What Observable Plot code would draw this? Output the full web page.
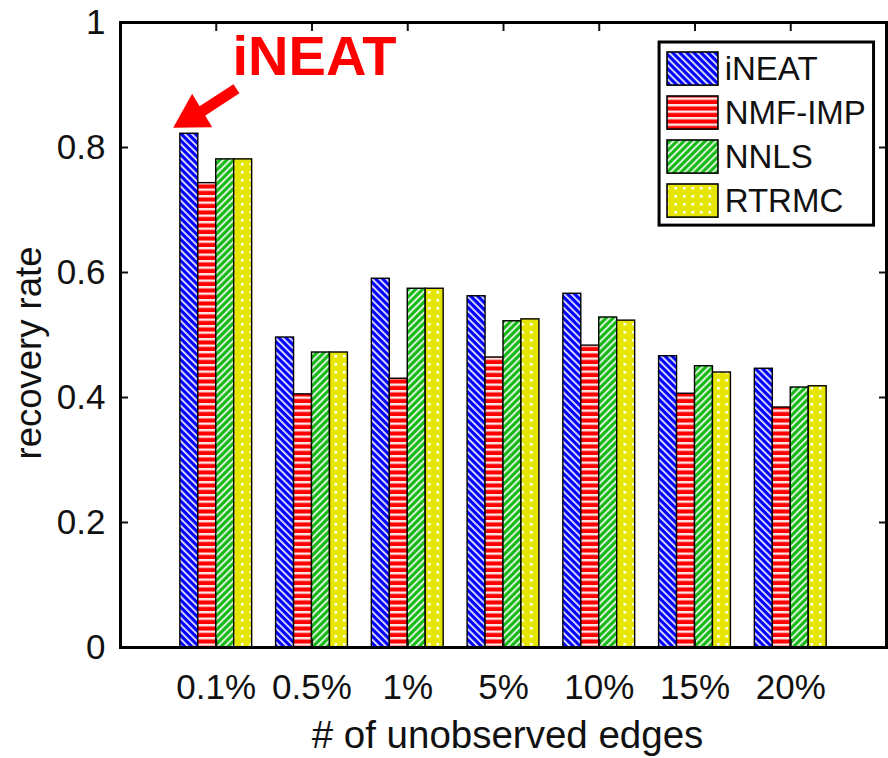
<!DOCTYPE html>
<html>
<head>
<meta charset="utf-8">
<script src="https://cdn.jsdelivr.net/npm/d3@7"></script>
<script src="https://cdn.jsdelivr.net/npm/@observablehq/plot@0.6"></script>
<style>
  html, body { margin: 0; padding: 0; background: #ffffff; }
  #chart { width: 888px; height: 758px; }
</style>
</head>
<body>
<div id="chart"></div>
<script>
// ---- data ----
const categories = ["0.1%", "0.5%", "1%", "5%", "10%", "15%", "20%"];
const series = ["iNEAT", "NMF-IMP", "NNLS", "RTRMC"];
const ineat  = [0.822, 0.496, 0.590, 0.562, 0.566, 0.466, 0.446];
const nmfImp = [0.743, 0.405, 0.430, 0.464, 0.483, 0.406, 0.384];
const nnls   = [0.781, 0.472, 0.574, 0.522, 0.528, 0.450, 0.416];
const rtrmc  = [0.781, 0.472, 0.574, 0.525, 0.523, 0.440, 0.418];
const yTicks = [0, 0.2, 0.4, 0.6, 0.8, 1];
const yTickLabels = ["0", "0.2", "0.4", "0.6", "0.8", "1"];
const xLabel = "# of unobserved edges";
const yLabel = "recovery rate";
const annotationText = "iNEAT";

// ---- build table ----
const seriesValues = [ineat, nmfImp, nnls, rtrmc];
const barW = 0.1875;
const rows = [];
categories.forEach((c, ci) => {
  series.forEach((s, si) => {
    const x1 = ci + 1 - 2 * barW + si * barW;
    rows.push({category: c, series: s, value: seriesValues[si][ci], x1, x2: x1 + barW});
  });
});
const catPos = categories.map((c, i) => i + 1);
const patternIds = ["pat-ineat", "pat-nmf", "pat-nnls", "pat-rtrmc"];
const patternFills = patternIds.map(id => `url(#${id})`);

// ---- legend layout (data units) ----
const legX1 = 5.713, legX2 = 6.245, legTextX = 6.31;
const legTop = 0.952, legStep = 0.0704, legH = 0.053;
const legendRows = series.map((s, i) => ({
  series: s,
  y2: legTop - i * legStep,
  y1: legTop - i * legStep - legH,
  ym: legTop - i * legStep - legH / 2
}));
const legendBox = [{x1: 5.63, x2: 7.87, y1: 0.675, y2: 0.968}];

// ---- annotation layout (data units) ----
const arrowShaft = [{x1: 0.76, y1: 0.849, x2: 1.211, y2: 0.894}];
const arrowHead = [{x: 0.752, y: 0.850, angle: 239}];
const annotLabel = [{x: 1.17, y: 0.9168, text: annotationText}];

const font = "'Liberation Sans', Arial, Helvetica, sans-serif";

const svg = Plot.plot({
  width: 888,
  height: 758,
  marginLeft: 120,
  marginRight: 2,
  marginTop: 22,
  marginBottom: 111,
  x: {domain: [0, 8], axis: null},
  y: {domain: [0, 1], axis: null},
  color: {domain: series, range: patternFills},
  style: {fontFamily: font, background: "#ffffff", color: "#111"},
  marks: [
    Plot.rect(rows, {
      x1: "x1", x2: "x2", y1: 0, y2: "value",
      fill: "series", stroke: "#000", strokeWidth: 1.4
    }),
    // left axis
    Plot.axisY(yTicks, {
      anchor: "left", tickSize: -8, tickPadding: 23, strokeWidth: 2,
      tickFormat: (d, i) => yTickLabels[i], fontSize: 35, fill: "#111", label: null
    }),
    // right axis ticks
    Plot.axisY(yTicks.slice(1, -1), {
      anchor: "right", tickSize: -8, strokeWidth: 2, tickFormat: () => "", label: null
    }),
    // bottom axis
    Plot.axisX(catPos, {
      anchor: "bottom", tickSize: -8, tickPadding: 35, strokeWidth: 2,
      tickFormat: (d, i) => categories[i], fontSize: 35, fill: "#111", label: null
    }),
    // top axis ticks
    Plot.axisX(catPos, {
      anchor: "top", tickSize: -8, strokeWidth: 2, tickFormat: () => "", label: null
    }),
    Plot.frame({stroke: "#000", strokeWidth: 3}),
    // axis titles
    Plot.text([yLabel], {
      frameAnchor: "left", text: d => d, rotate: -90, dx: -91, dy: 18,
      fontSize: 36.5, fill: "#111", textAnchor: "middle", lineAnchor: "middle"
    }),
    Plot.text([xLabel], {
      frameAnchor: "bottom", text: d => d, dx: 4, dy: 88,
      fontSize: 38.5, fill: "#111", textAnchor: "middle", lineAnchor: "middle"
    }),
    // legend
    Plot.rect(legendBox, {x1: "x1", x2: "x2", y1: "y1", y2: "y2", fill: "#fff", stroke: "#000", strokeWidth: 3}),
    Plot.rect(legendRows, {
      x1: legX1, x2: legX2, y1: "y1", y2: "y2",
      fill: "series", stroke: "#000", strokeWidth: 1.6
    }),
    Plot.text(legendRows, {
      x: legTextX, y: "ym", text: "series", textAnchor: "start", lineAnchor: "middle",
      fontSize: 33, fill: "#111"
    }),
    // annotation
    Plot.link(arrowShaft, {x1: "x1", y1: "y1", x2: "x2", y2: "y2", stroke: "#ff0000", strokeWidth: 11}),
    Plot.dot(arrowHead, {x: "x", y: "y", symbol: "triangle", r: 14.5, rotate: "angle", fill: "#ff0000", stroke: "none"}),
    Plot.text(annotLabel, {
      x: "x", y: "y", text: "text", textAnchor: "start", lineAnchor: "bottom",
      fontSize: 56, fontWeight: "bold", fill: "#ff0000"
    })
  ]
});

d3.select(svg).insert("defs", ":first-child").html(`
  <pattern id="pat-ineat" patternUnits="userSpaceOnUse" width="5" height="5" patternTransform="rotate(-45)">
    <rect width="5" height="5" fill="#0000ff"/>
    <rect width="1.8" height="5" fill="#ffffff" fill-opacity="0.9"/>
  </pattern>
  <pattern id="pat-nmf" patternUnits="userSpaceOnUse" width="6" height="6.5">
    <rect width="6" height="6.5" fill="#ff0000"/>
    <rect y="0" width="6" height="2.4" fill="#ffffff" fill-opacity="0.9"/>
  </pattern>
  <pattern id="pat-nnls" patternUnits="userSpaceOnUse" width="5" height="5" patternTransform="rotate(45)">
    <rect width="5" height="5" fill="#17b817"/>
    <rect width="1.8" height="5" fill="#ffffff" fill-opacity="0.9"/>
  </pattern>
  <pattern id="pat-rtrmc" patternUnits="userSpaceOnUse" width="8.5" height="8">
    <rect width="8.5" height="8" fill="#e6e600"/>
    <rect x="3" y="3" width="2.6" height="2.6" fill="#ffffff"/>
  </pattern>
`);

document.getElementById("chart").appendChild(svg);
</script>
</body>
</html>
